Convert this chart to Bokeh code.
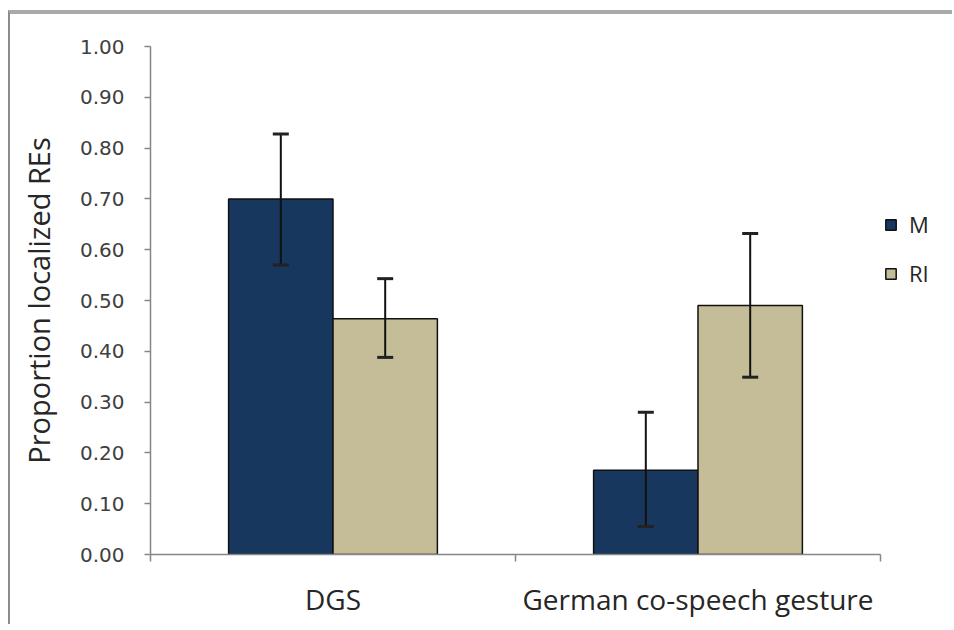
from bokeh.plotting import figure
from bokeh.models import (ColumnDataSource, Range1d, FixedTicker, NumeralTickFormatter,
                          Whisker, TeeHead, Legend, LegendItem)
from bokeh.embed import file_html
from bokeh.resources import INLINE

# ---- data ----
categories = ["DGS", "German co-speech gesture"]
series = ["M", "RI"]
m_values = [0.700, 0.166]
ri_values = [0.464, 0.490]
m_upper = [0.828, 0.280]
m_lower = [0.570, 0.055]
ri_upper = [0.543, 0.632]
ri_lower = [0.388, 0.349]
y_ticks = [0.0, 0.1, 0.2, 0.3, 0.4, 0.5, 0.6, 0.7, 0.8, 0.9, 1.0]

colors = {"M": "#17375E", "RI": "#C4BD97"}
bar_w = 0.286
offsets = {"M": -0.143, "RI": 0.143}

W, H = 944, 614
LEFT = 140
p = figure(width=W, height=H, output_backend="svg", toolbar_location=None,
           x_range=Range1d(0, (W - LEFT) / 365.0), y_range=Range1d(0, 1.0),
           min_border_left=LEFT, min_border_right=0, min_border_top=32, min_border_bottom=74)
p.styles = {"border-top": "4px solid #a9a9a9", "border-left": "2px solid #8c8c8c",
            "margin-top": "10px", "margin-left": "8px"}
p.outline_line_color = None
p.xgrid.visible = False
p.ygrid.visible = False
p.background_fill_color = "white"
p.border_fill_color = "white"

n = len(categories)
renderers = {}
for s, vals, up, lo in [("M", m_values, m_upper, m_lower), ("RI", ri_values, ri_upper, ri_lower)]:
    xs = [i + 0.5 + offsets[s] for i in range(n)]
    src = ColumnDataSource(dict(x=xs, top=vals, upper=up, lower=lo))
    r = p.vbar(x="x", top="top", bottom=0, width=bar_w, source=src,
               fill_color=colors[s], line_color="#111111", line_width=1.5)
    renderers[s] = r
    wk = Whisker(base="x", upper="upper", lower="lower", source=src, level="annotation",
                 line_color="#111111", line_width=2,
                 upper_head=TeeHead(size=16, line_color="#222222", line_width=3),
                 lower_head=TeeHead(size=16, line_color="#222222", line_width=3))
    p.add_layout(wk)

# x axis: tick marks at category boundaries (minor), labels at centers
xa = p.xaxis[0]
xa.ticker = FixedTicker(ticks=[i + 0.5 for i in range(n)], minor_ticks=list(range(n + 1)))
xa.major_label_overrides = {i + 0.5: c for i, c in enumerate(categories)}
xa.bounds = (0, n)
xa.axis_line_color = "#868686"
xa.axis_line_width = 1.5
xa.major_tick_line_color = None
xa.minor_tick_line_color = "#868686"
xa.minor_tick_line_width = 1.5
xa.minor_tick_out = 7
xa.minor_tick_in = 0
xa.major_label_standoff = 18
xa.major_label_text_font = "Open Sans"
xa.major_label_text_font_size = "28px"
xa.major_label_text_color = "#262626"

ya = p.yaxis[0]
ya.ticker = FixedTicker(ticks=y_ticks, minor_ticks=[])
ya.formatter = NumeralTickFormatter(format="0.00")
ya.axis_line_color = "#868686"
ya.axis_line_width = 1.5
ya.major_tick_line_color = "#868686"
ya.major_tick_line_width = 1.5
ya.major_tick_out = 6
ya.major_tick_in = 0
ya.major_label_standoff = 20
ya.major_label_text_font = "DejaVu Sans"
ya.major_label_text_font_size = "20px"
ya.major_label_text_color = "#404040"
ya.axis_label = "Proportion localized REs"
ya.axis_label_text_font = "Open Sans"
ya.axis_label_text_font_style = "normal"
ya.axis_label_text_font_size = "29px"
ya.axis_label_text_color = "#262626"
ya.axis_label_standoff = 19

legend = Legend(items=[LegendItem(label=s, renderers=[renderers[s]]) for s in series],
                location=(734, 266), orientation="vertical",
                glyph_width=13, glyph_height=13, label_height=20, spacing=19,
                padding=0, margin=0, label_standoff=12,
                label_text_font="Open Sans", label_text_font_size="22px",
                label_text_color="#262626",
                border_line_color=None, background_fill_alpha=0)
p.add_layout(legend)

open("out.html", "w").write(file_html(p, INLINE))
